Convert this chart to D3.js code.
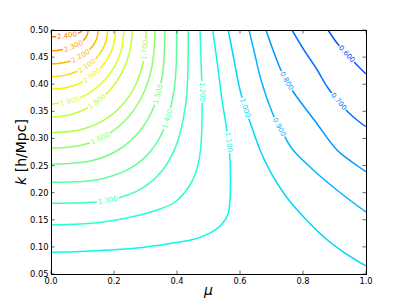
<!DOCTYPE html>
<html><head><meta charset="utf-8">
<script src="https://cdn.jsdelivr.net/npm/d3@7"></script>
<style>body{margin:0;background:#fff}</style>
</head><body>
<svg id="c" width="407" height="305"></svg>
<script>
// ---- data ----
const xTicks = [0.0, 0.2, 0.4, 0.6, 0.8, 1.0];
const yTicks = [0.05, 0.10, 0.15, 0.20, 0.25, 0.30, 0.35, 0.40, 0.45, 0.50];
const levels = [2.4, 2.3, 2.2, 2.1, 2.0, 1.9, 1.8, 1.7, 1.6, 1.5, 1.4, 1.3, 1.2, 1.1, 1.0, 0.9, 0.8, 0.7, 0.6];

// contour paths, as [mu, k]
const c240 = [[0,.4876],[.0255,.4881],[.0492,.4893],[.0696,.4913],[.0852,.4938],[.0950,.4968],[.0984,.5]];
const c230 = [[0,.4618],[.0306,.4631],[.0592,.4669],[.0837,.4730],[.1025,.4809],[.1144,.4901],[.1184,.5]];
const c220 = [[0,.4373],[.0389,.4394],[.0751,.4457],[.1062,.4557],[.1301,.4687],[.1451,.4838],[.1502,.5]];
const c210 = [[0,.4139],[.0466,.4168],[.0900,.4254],[.1273,.4391],[.1559,.4569],[.1739,.4777],[.1800,.5]];
const c200 = [[0,.3906],[.0532,.3943],[.1027,.4053],[.1452,.4226],[.1779,.4453],[.1984,.4717],[.2054,.5]];
const c190 = [[0,.3635],[.0600,.3682],[.1159,.3818],[.1638,.4035],[.2007,.4317],[.2238,.4647],[.2317,.5]];
const c180 = [[0,.3390],[.0668,.3445],[.1291,.3606],[.1825,.3862],[.2235,.4195],[.2493,.4583],[.2581,.5]];
const c170 = [[0,.3106],[.0932,.3162],[.1653,.3329],[.2234,.3599],[.2665,.3963],[.2930,.4415],[.3020,.5]];
const c160 = [[0,.2818],[.1019,.2883],[.1807,.3075],[.2443,.3386],[.2914,.3806],[.3204,.4326],[.3302,.5]];
const c150 = [[0,.2523],[.1280,.2588],[.2124,.2782],[.2772,.3103],[.3240,.3547],[.3524,.4124],[.3619,.5]];
const c140 = [[0,.2191],[.1025,.2208],[.1619,.2256],[.2514,.2448],[.3168,.2770],[.3625,.3231],[.3898,.3860],[.3968,.4277],[.3990,.5]];
const c130 = [[0,.1804],[.1270,.1821],[.1921,.1870],[.2863,.2071],[.3533,.2409],[.3994,.2900],[.4267,.3591],[.4337,.4071],[.4359,.5]];
const c120 = [[0,.1404],[.0921,.1422],[.1873,.1478],[.2825,.1588],[.3460,.1699],[.3937,.1828],[.4349,.2086],[.4603,.2381],[.4746,.2787],[.4794,.3340],[.4794,.3857],[.4762,.4447],[.4730,.5]];
const c110 = [[0,.0900],[.0921,.0915],[.1873,.0943],[.2825,.0985],[.3778,.1063],[.4571,.1146],[.5111,.1275],[.5429,.1422],[.5619,.1607],[.5683,.1865],[.5698,.2271],[.5683,.2603],[.5635,.2934],[.5556,.3248],[.5429,.3709],[.5286,.4355],[.5133,.5]];
const c100 = [[.5629,.5],[.5810,.4447],[.6000,.3894],[.6159,.3562],[.6349,.3248],[.6635,.2787],[.6984,.2363],[.7429,.1957],[.7905,.1625],[.8698,.1164],[.9333,.0887],[1,.0648]];
const c090 = [[.6286,.5],[.6476,.4539],[.6667,.4078],[.7016,.3488],[.7238,.3211],[.7460,.2990],[.7683,.2787],[.8222,.2474],[.8762,.2197],[.9397,.1902],[1,.1644]];
const c080 = [[.6825,.5],[.7048,.4631],[.7270,.4299],[.7476,.4060],[.7714,.3838],[.8381,.3322],[.9079,.2787],[.9556,.2566],[1,.2387]];
const c070 = [[.7651,.5],[.8032,.4631],[.8413,.4299],[.8794,.3930],[.9127,.3681],[.9429,.3488],[.9714,.3340],[1,.3217]];
const c060 = [[.8794,.5],[.9079,.4760],[.9381,.4557],[.9714,.4355],[1,.4189]];

// label anchor points [mu, k], one per level
const labelPts = [[.0508,.4889],[.0698,.4714],[.0921,.4539],[.1111,.4355],[.1302,.4152],[.0603,.3654],[.1429,.3709],
  [.2937,.4631],[.1556,.3008],[.3365,.3820],[.3714,.3359],[.1778,.1920],[.4794,.3857],[.5635,.2934],
  [.6159,.3562],[.7238,.3211],[.7476,.4060],[.9127,.3681],[.9381,.4557]];

const contours = [c240,c230,c220,c210,c200,c190,c180,c170,c160,c150,c140,c130,c120,c110,c100,c090,c080,c070,c060];

// ---- drawing ----
const svg = d3.select("#c");
const L = 51, R = 366, T = 30, B = 274;
const x = d3.scaleLinear().domain([0, 1]).range([L, R]);
const y = d3.scaleLinear().domain([0.05, 0.5]).range([B, T]);

const jr = d3.scaleLinear().domain([0,0.35,0.66,0.89,1]).range([0,0,1,1,0.5]).clamp(true);
const jg = d3.scaleLinear().domain([0,0.125,0.375,0.64,0.91,1]).range([0,0,1,1,0,0]).clamp(true);
const jb = d3.scaleLinear().domain([0,0.11,0.34,0.65,1]).range([0.5,1,1,0,0]).clamp(true);
const norm = d3.scaleLinear().domain([-0.05, 3.1]).range([0, 1]);
const jet = v => { const t = norm(v); return d3.rgb(jr(t)*255, jg(t)*255, jb(t)*255).formatHex(); };

const defs = svg.append("defs");
defs.append("clipPath").attr("id","clip").append("rect")
  .attr("x", L).attr("y", T).attr("width", R-L).attr("height", B-T);

const lineGen = d3.line().x(d => x(d[0])).y(d => y(d[1])).curve(d3.curveCatmullRom.alpha(0.5));
const fmt = d3.format(".3f");

const gLines = svg.append("g").attr("clip-path","url(#clip)");
const gLabels = svg.append("g");

contours.forEach((pts, i) => {
  const col = jet(levels[i]);
  const path = gLines.append("path").attr("d", lineGen(pts))
    .attr("fill","none").attr("stroke", col).attr("stroke-width", 1.5);
  const node = path.node();
  const len = node.getTotalLength();
  const lx = x(labelPts[i][0]), ly = y(labelPts[i][1]);
  let best = 0, bd = Infinity;
  for (let s = 0; s <= len; s += 0.5) {
    const p = node.getPointAtLength(s);
    const d = (p.x-lx)*(p.x-lx) + (p.y-ly)*(p.y-ly);
    if (d < bd) { bd = d; best = s; }
  }
  const p0 = node.getPointAtLength(Math.max(0, best-4));
  const p1 = node.getPointAtLength(Math.min(len, best+4));
  const pc = node.getPointAtLength(best);
  let ang = Math.atan2(p1.y-p0.y, p1.x-p0.x) * 180 / Math.PI;
  if (ang > 90) ang -= 180;
  if (ang <= -90) ang += 180;
  const txt = gLabels.append("text")
    .attr("transform", `translate(${pc.x},${pc.y}) rotate(${ang})`)
    .attr("text-anchor","middle").attr("dominant-baseline","central")
    .attr("font-family","DejaVu Sans").attr("font-size", 7)
    .attr("fill", col).text(fmt(levels[i]));
  const w = txt.node().getComputedTextLength() + 2;
  const m = defs.append("mask").attr("id","m"+i).attr("maskUnits","userSpaceOnUse")
    .attr("x",0).attr("y",0).attr("width",407).attr("height",305);
  m.append("rect").attr("x",0).attr("y",0).attr("width",407).attr("height",305).attr("fill","#fff");
  m.append("rect").attr("transform", `translate(${pc.x},${pc.y}) rotate(${ang})`)
    .attr("x", -w/2).attr("y", -4).attr("width", w).attr("height", 8).attr("fill","#000");
  path.attr("mask", `url(#m${i})`);
});

// ticks (inward, all four sides)
const tk = 3.5;
const gt = svg.append("g").attr("stroke","#444").attr("stroke-width",0.8);
xTicks.forEach(v => {
  gt.append("line").attr("x1",x(v)).attr("x2",x(v)).attr("y1",B).attr("y2",B-tk);
  gt.append("line").attr("x1",x(v)).attr("x2",x(v)).attr("y1",T).attr("y2",T+tk);
});
yTicks.forEach(v => {
  gt.append("line").attr("y1",y(v)).attr("y2",y(v)).attr("x1",L).attr("x2",L+tk);
  gt.append("line").attr("y1",y(v)).attr("y2",y(v)).attr("x1",R).attr("x2",R-tk);
});

// frame
svg.append("rect").attr("x",L).attr("y",T).attr("width",R-L).attr("height",B-T)
  .attr("fill","none").attr("stroke","#000").attr("stroke-width",1).attr("shape-rendering","crispEdges");

// tick labels
const fx = d3.format(".1f"), fy = d3.format(".2f");
svg.append("g").selectAll("text").data(xTicks).join("text")
  .attr("x", d => x(d)).attr("y", 283.5).attr("text-anchor","middle")
  .attr("font-family","DejaVu Sans").attr("font-size", 8.3).attr("fill","#000").text(d => fx(d));
svg.append("g").selectAll("text").data(yTicks).join("text")
  .attr("x", 48.5).attr("y", d => y(d)).attr("text-anchor","end").attr("dominant-baseline","central")
  .attr("font-family","DejaVu Sans").attr("font-size", 8.3).attr("fill","#000").text(d => fy(d));

// axis labels
svg.append("text").attr("x", (L+R)/2).attr("y", 295).attr("text-anchor","middle")
  .attr("font-family","DejaVu Sans").attr("font-size", 14).attr("font-style","italic").text("μ");
const yl = svg.append("text").attr("transform", `translate(26,${(T+B)/2}) rotate(-90)`)
  .attr("text-anchor","middle").attr("font-family","DejaVu Sans").attr("font-size", 14);
yl.append("tspan").attr("font-style","italic").text("k");
yl.append("tspan").text(" [h/Mpc]");
</script>
</body></html>
